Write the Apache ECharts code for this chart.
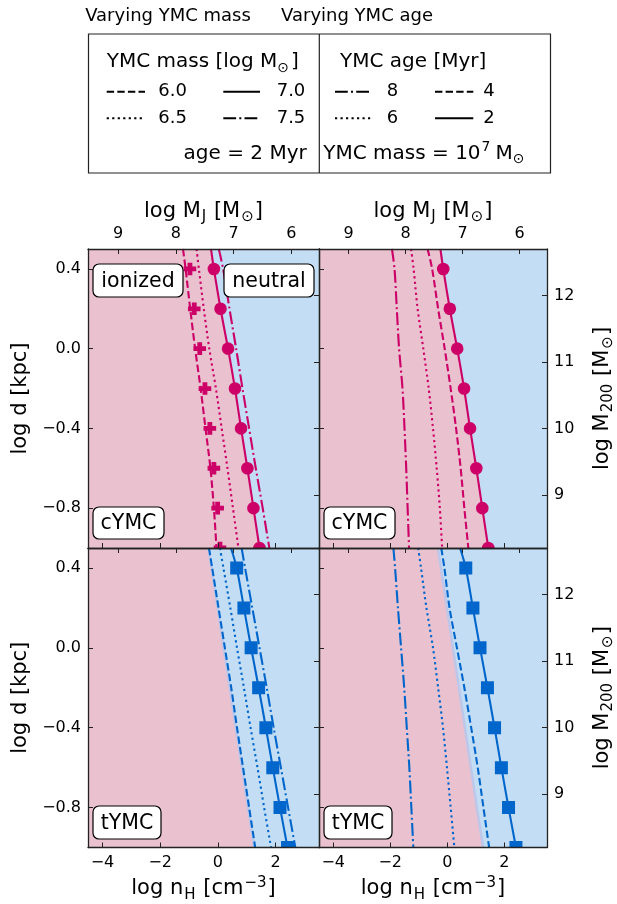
<!DOCTYPE html>
<html>
<head>
<meta charset="utf-8">
<script src="https://cdn.jsdelivr.net/npm/echarts@6/dist/echarts.min.js"></script>
<style>
  html, body { margin: 0; padding: 0; background: #fff; }
  #chart { width: 617px; height: 904px; }
</style>
</head>
<body>
<div id="chart"></div>
<script>
const logD = [0.5, 0.4, 0.2, 0.0, -0.2, -0.4, -0.6, -0.8, -1.0];
// log d of the markers
const markD = [0.4, 0.2, 0.0, -0.2, -0.4, -0.6, -0.8, -1.0];

// cYMC (log n_H), fiducial 1e7 Msun, 2 Myr
const cFid = [-0.24, -0.14, 0.09, 0.35, 0.59, 0.80, 1.02, 1.23, 1.44];
// cYMC varying mass, age 2 Myr
const cMass60 = [-1.21, -1.12, -0.96, -0.79, -0.60, -0.43, -0.26, -0.14, -0.05];
const cMass65 = [-0.74, -0.66, -0.49, -0.30, -0.07, 0.13, 0.33, 0.52, 0.71];
const cMass75 = [0.03, 0.18, 0.40, 0.63, 0.85, 1.08, 1.31, 1.55, 1.78];
const cPlus = [-0.97, -0.82, -0.63, -0.45, -0.28, -0.14, -0.01, 0.07];
// cYMC varying age, mass 1e7
const cAge8 = [-1.94, -1.85, -1.77, -1.69, -1.57, -1.50, -1.44, -1.39, -1.34];
const cAge6 = [-1.27, -1.18, -1.04, -0.84, -0.65, -0.50, -0.37, -0.26, -0.18];
const cAge4 = [-0.69, -0.53, -0.32, -0.09, 0.12, 0.31, 0.47, 0.60, 0.74];

// tYMC (log n_H), fiducial 1e7 Msun, 2 Myr
const tFid = [0.45, 0.65, 0.90, 1.15, 1.41, 1.66, 1.90, 2.15, 2.41];
const tMass60 = [-0.31, -0.20, 0.02, 0.24, 0.46, 0.66, 0.87, 1.08, 1.29];
const tMass65 = [0.07, 0.19, 0.43, 0.66, 0.90, 1.13, 1.37, 1.60, 1.84];
const tMass75 = [0.82, 0.94, 1.19, 1.44, 1.69, 1.93, 2.18, 2.43, 2.68];
const tAge8 = [-1.89, -1.83, -1.73, -1.62, -1.51, -1.42, -1.33, -1.26, -1.19];
const tAge6 = [-1.02, -0.92, -0.73, -0.50, -0.32, -0.15, -0.01, 0.12, 0.25];
const tAge4 = [-0.21, -0.10, 0.08, 0.34, 0.60, 0.84, 1.07, 1.27, 1.47];
const tIon = [-0.33, -0.22, -0.01, 0.20, 0.41, 0.62, 0.83, 1.04, 1.26];

// ticks
const nHTicks = [-4, -2, 0, 2];
const mJTicks = [6, 7, 8, 9];
const dTicks = [-0.8, -0.4, 0.0, 0.4];
const m200Ticks = [9, 10, 11, 12];

const N_MIN = -4.5, N_MAX = 3.5, D_MIN = -1.0, D_MAX = 0.5;
// secondary axes
const mJ = n => 7.27 - 0.5 * n;
const m200 = d => 11.2 + 3 * d;

const FONT = "DejaVu Sans";
const PINK = "#e9c1cf", BG = "#c2ddf4", MAG = "#cc0066", BLU = "#0066cc", EDGE = "#bcc7ea";
const DASH = [7.4, 3.2], DOT = [2.2, 3.3], DASHDOT = [12.8, 3.2, 2, 3.2];

const pairs = (xs, ys) => xs.map((v, i) => [v, ys[i]]);
const fmt = dec => v => (v < 0 ? "\u2212" : "") + Math.abs(v).toFixed(dec);

const rich = {
  n: { fontSize: 21, lineHeight: 27, fontFamily: FONT, color: "#000" },
  sub: { fontSize: 15, lineHeight: 27, fontFamily: FONT, color: "#000", verticalAlign: "bottom", padding: [0, 1, 0, 1] },
  sup: { fontSize: 15, lineHeight: 27, fontFamily: FONT, color: "#000", verticalAlign: "top", padding: [0, 1, 0, 1] }
};
const nameStyle = { fontSize: 21, lineHeight: 27, fontFamily: FONT, color: "#000", rich: rich };
const lineAx = { onZero: false, lineStyle: { color: "#222", width: 1.3 } };
const labelBase = { fontSize: 16, fontFamily: FONT, color: "#000", margin: 7 };

const grids = [
  { left: 88, top: 249, width: 231, height: 299 },
  { left: 319, top: 249, width: 231, height: 299 },
  { left: 88, top: 548, width: 231, height: 299.5 },
  { left: 319, top: 548, width: 231, height: 299.5 }
].map(g => Object.assign(g, { show: true, backgroundColor: BG, borderWidth: 0 }));

const xAxes = [], yAxes = [];
grids.forEach((g, i) => {
  const bottomRow = i >= 2, rightCol = i % 2 === 1;
  xAxes.push({
    type: "value", gridIndex: i, position: "bottom", min: N_MIN, max: N_MAX, z: 10,
    axisLine: lineAx, splitLine: { show: false },
    axisTick: { inside: true, length: 5, customValues: nHTicks, lineStyle: { color: "#222" } },
    axisLabel: Object.assign({ show: bottomRow, customValues: nHTicks, formatter: fmt(0) }, labelBase),
    name: bottomRow ? "{n|log n}{sub|H}{n| [cm}{sup|\u22123}{n|]}" : "",
    nameLocation: "middle", nameGap: 28, nameTextStyle: nameStyle
  });
  xAxes.push({
    type: "value", gridIndex: i, position: "top", min: mJ(N_MAX), max: mJ(N_MIN), inverse: true, z: 10,
    axisLine: lineAx, splitLine: { show: false },
    axisTick: { inside: true, length: 5, customValues: mJTicks, lineStyle: { color: "#222" } },
    axisLabel: Object.assign({ show: !bottomRow, customValues: mJTicks, formatter: fmt(0) }, labelBase),
    name: !bottomRow ? "{n|log M}{sub|J}{n| [M}{sub|\u2299}{n|]}" : "",
    nameLocation: "middle", nameGap: 22, nameTextStyle: nameStyle
  });
  yAxes.push({
    type: "value", gridIndex: i, position: "left", min: D_MIN, max: D_MAX, z: 10,
    axisLine: lineAx, splitLine: { show: false },
    axisTick: { inside: true, length: 5, customValues: dTicks, lineStyle: { color: "#222" } },
    axisLabel: Object.assign({ show: !rightCol, customValues: dTicks, formatter: fmt(1) }, labelBase),
    name: !rightCol ? "{n|log d [kpc]}" : "",
    nameLocation: "middle", nameGap: 54, nameTextStyle: nameStyle
  });
  yAxes.push({
    type: "value", gridIndex: i, position: "right", min: m200(D_MIN), max: m200(D_MAX), z: 10,
    axisLine: lineAx, splitLine: { show: false },
    axisTick: { inside: true, length: 5, customValues: m200Ticks, lineStyle: { color: "#222" } },
    axisLabel: Object.assign({ show: rightCol, customValues: m200Ticks, formatter: fmt(0) }, labelBase),
    name: rightCol ? "{n|log M}{sub|200}{n| [M}{sub|\u2299}{n|]}" : "",
    nameLocation: "middle", nameGap: 42, nameTextStyle: nameStyle
  });
});

// ionized (pink) region left of a boundary curve
function region(g, xs, edge) {
  const data = pairs(xs, logD);
  return {
    type: "custom", xAxisIndex: 2 * g, yAxisIndex: 2 * g, z: 1, silent: true, clip: true,
    data: data, encode: { x: 0, y: 1 },
    renderItem: function (params, api) {
      if (params.dataIndex !== 0) return null;
      const pts = data.map(d => api.coord(d));
      const poly = pts.concat([api.coord([N_MIN, data[data.length - 1][1]]), api.coord([N_MIN, data[0][1]])]);
      const kids = [{ type: "polygon", shape: { points: poly }, style: { fill: PINK } }];
      if (edge) kids.push({ type: "polyline", shape: { points: pts }, style: { stroke: edge, lineWidth: 2.5, fill: null } });
      return { type: "group", children: kids };
    }
  };
}

function curve(g, xs, color, dash) {
  return {
    type: "line", xAxisIndex: 2 * g, yAxisIndex: 2 * g, z: 3, silent: true,
    data: pairs(xs, logD), showSymbol: false, smooth: 0.3,
    lineStyle: { color: color, width: 2.1, type: dash }
  };
}

function marks(g, xs, shape, color) {
  return {
    type: "custom", xAxisIndex: 2 * g, yAxisIndex: 2 * g, z: 4, silent: true, clip: true,
    data: pairs(xs, markD), encode: { x: 0, y: 1 },
    renderItem: function (params, api) {
      const p = api.coord([api.value(0), api.value(1)]);
      const st = { fill: color };
      if (shape === "circle") return { type: "circle", shape: { cx: p[0], cy: p[1], r: 6.3 }, style: st };
      if (shape === "square") return { type: "rect", shape: { x: p[0] - 6.5, y: p[1] - 6.5, width: 13, height: 13 }, style: st };
      const h = 6.3, a = 2.4, x = p[0], y = p[1];
      return { type: "polygon", style: st, shape: { points: [
        [x - a, y - h], [x + a, y - h], [x + a, y - a], [x + h, y - a], [x + h, y + a], [x + a, y + a],
        [x + a, y + h], [x - a, y + h], [x - a, y + a], [x - h, y + a], [x - h, y - a], [x - a, y - a]] } };
    }
  };
}

const series = [
  region(0, cFid),
  curve(0, cMass60, MAG, DASH), curve(0, cMass65, MAG, DOT), curve(0, cFid, MAG, "solid"), curve(0, cMass75, MAG, DASHDOT),
  marks(0, cPlus, "plus", MAG), marks(0, cFid.slice(1), "circle", MAG),

  region(1, cFid),
  curve(1, cAge8, MAG, DASHDOT), curve(1, cAge6, MAG, DOT), curve(1, cAge4, MAG, DASH), curve(1, cFid, MAG, "solid"),
  marks(1, cFid.slice(1), "circle", MAG),

  region(2, tIon, EDGE),
  curve(2, tMass60, BLU, DASH), curve(2, tMass65, BLU, DOT), curve(2, tFid, BLU, "solid"), curve(2, tMass75, BLU, DASHDOT),
  marks(2, tFid.slice(1), "square", BLU),

  region(3, tIon, EDGE),
  curve(3, tAge8, BLU, DASHDOT), curve(3, tAge6, BLU, DOT), curve(3, tAge4, BLU, DASH), curve(3, tFid, BLU, "solid"),
  marks(3, tFid.slice(1), "square", BLU)
];

// text helpers for the graphic layer
function lrich(size) {
  const s = Math.round(size * 0.7);
  return {
    n: { fontSize: size, lineHeight: size + 6, fontFamily: FONT, fill: "#000" },
    sub: { fontSize: s, lineHeight: size + 6, fontFamily: FONT, fill: "#000", verticalAlign: "bottom", padding: [0, 2, 0, 0] },
    sup: { fontSize: s, lineHeight: size + 6, fontFamily: FONT, fill: "#000", verticalAlign: "top", padding: [0, 5, 0, 1] }
  };
}
function txt(x, y, s, align, size) {
  size = size || 18;
  return {
    type: "text", x: x, y: y, z: 100, silent: true,
    style: {
      text: s, rich: lrich(size), font: size + 'px "' + FONT + '"', fill: "#000",
      align: align || "left", textAlign: align || "left", verticalAlign: "middle", textVerticalAlign: "middle"
    }
  };
}
function seg(x1, x2, y, dash) {
  return {
    type: "line", z: 100, silent: true, shape: { x1: x1, y1: y, x2: x2, y2: y },
    style: { stroke: "#000", lineWidth: 2, lineDash: dash || null }
  };
}
function box(x, y, w, h, s) {
  return [
    { type: "rect", z: 100, silent: true, shape: { x: x, y: y, width: w, height: h, r: 6 }, style: { fill: "#fff", stroke: "#000", lineWidth: 1.2 } },
    { type: "text", z: 101, silent: true, x: x + w / 2, y: y + h / 2 + 1,
      style: { text: s, font: '20.5px "' + FONT + '"', fill: "#000", align: "center", textAlign: "center", verticalAlign: "middle", textVerticalAlign: "middle" } }
  ];
}

const graphic = [
  txt(168, 16, "Varying YMC mass", "center"),
  txt(357, 16, "Varying YMC age", "center"),
  { type: "rect", z: 100, silent: true, shape: { x: 88.5, y: 34, width: 462, height: 139 }, style: { fill: null, stroke: "#222", lineWidth: 1.2 } },
  { type: "line", z: 100, silent: true, shape: { x1: 319.3, y1: 34, x2: 319.3, y2: 173 }, style: { stroke: "#222", lineWidth: 1.2 } },

  txt(106.7, 62, "{n|YMC mass [log M}{sub|\u2299}{n|]}", "left", 20),
  seg(106.7, 145, 91.7, DASH), txt(158.3, 91.7, "6.0"),
  seg(223.3, 260, 91.7), txt(276.7, 91.7, "7.0"),
  seg(106.7, 145, 118.3, DOT), txt(158.3, 118.3, "6.5"),
  seg(223.3, 260, 118.3, DASHDOT), txt(276.7, 118.3, "7.5"),
  txt(306.7, 153.3, "age = 2 Myr", "right", 20),

  txt(340, 62, "YMC age [Myr]", "left", 20),
  seg(335, 371.7, 91.7, DASHDOT), txt(386.7, 91.7, "8"),
  seg(435, 473.3, 91.7, DASH), txt(483.3, 91.7, "4"),
  seg(335, 371.7, 118.3, DOT), txt(386.7, 118.3, "6"),
  seg(435, 473.3, 118.3), txt(483.3, 118.3, "2"),
  txt(323.3, 153.3, "{n|YMC mass = 10}{sup|7}{n|M}{sub|\u2299}", "left", 20),
]
  .concat(box(93, 264, 90, 33, "ionized"))
  .concat(box(224, 264, 90, 33, "neutral"))
  .concat(box(93, 507, 71, 32, "cYMC"))
  .concat(box(324, 507, 71, 32, "cYMC"))
  .concat(box(93, 806, 68, 33, "tYMC"))
  .concat(box(324, 806, 68, 33, "tYMC"));

const chart = echarts.init(document.getElementById("chart"), null, { renderer: "canvas" });
chart.setOption({
  animation: false,
  backgroundColor: "#fff",
  textStyle: { fontFamily: FONT },
  grid: grids,
  xAxis: xAxes,
  yAxis: yAxes,
  series: series,
  graphic: graphic
});
</script>
</body>
</html>
